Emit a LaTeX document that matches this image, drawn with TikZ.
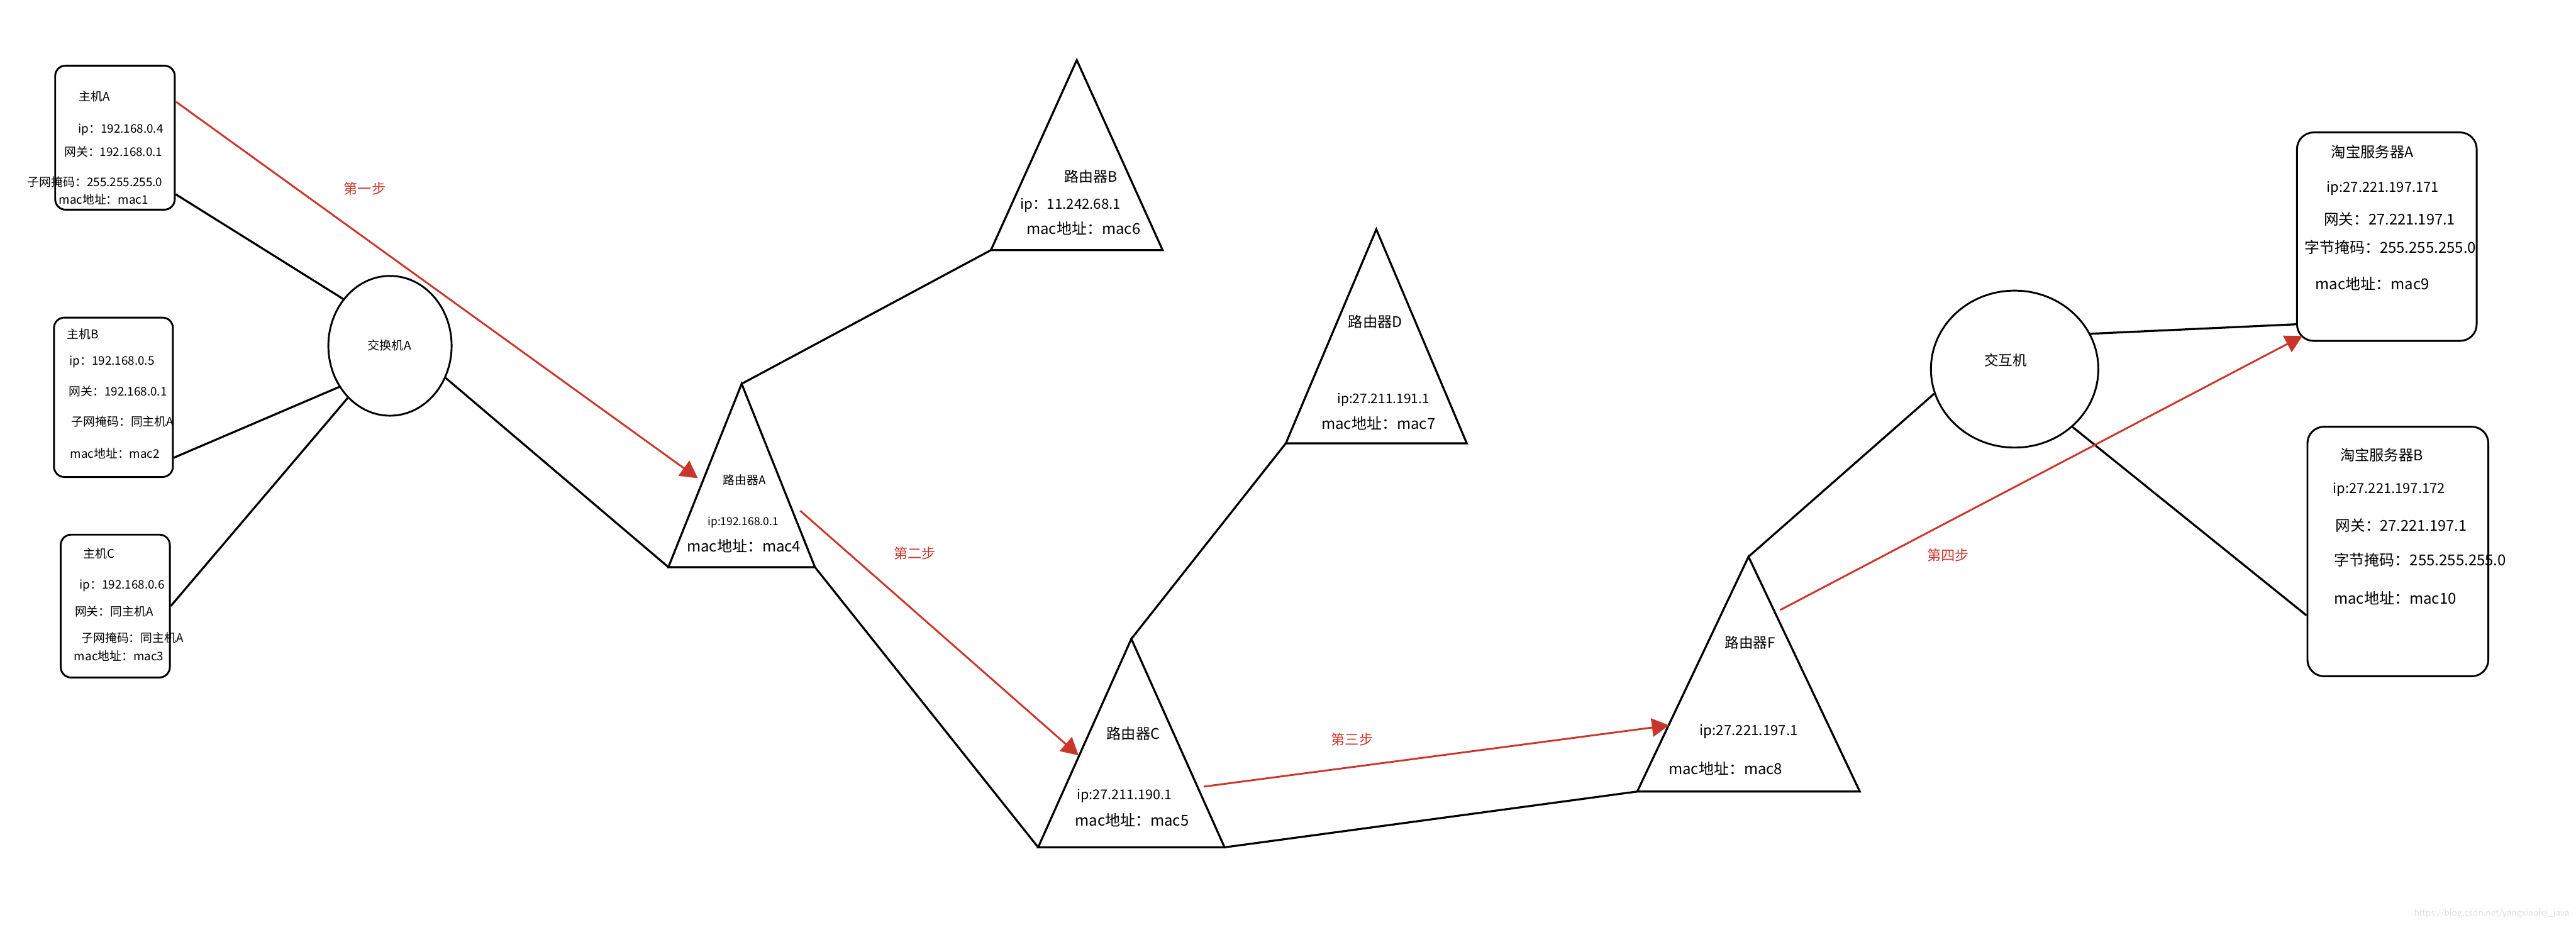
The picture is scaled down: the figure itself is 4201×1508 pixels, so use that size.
\documentclass[tikz,border=0pt]{standalone}
\usepackage{fontspec}
\setmainfont{Noto Sans CJK SC}
\usetikzlibrary{shapes.geometric,arrows.meta}
\definecolor{hopred}{RGB}{201,55,44}
\tikzset{
	link/.style={line width=0.33mm},
	box/.style={draw,line width=0.3mm,rounded corners=1.7mm,inner sep=0pt},
	srv/.style={box,rounded corners=2.7mm},
	hub/.style={draw,ellipse,line width=0.3mm,inner sep=0pt},
	hop/.style={draw=hopred,line width=0.3mm,-{Triangle[length=2.8mm,width=3mm]}},
}
\newcommand{\info}[5]{\node[inner sep=0pt,font=\fontsize{#4}{#4}\selectfont] (#1) at (#2,#3) {#5};}
\newcommand{\hoplabel}[4]{\node[inner sep=0pt,text=hopred,font=\fontsize{6.5}{6.5}\selectfont] (#1) at (#2,#3) {#4};}
\newcommand{\router}[5]{%
	\coordinate (#1-t) at (#2,#3);
	\coordinate (#1-l) at (#2-#5,#4);
	\coordinate (#1-r) at (#2+#5,#4);
	\draw[link] (#1-t) -- (#1-l) -- (#1-r) -- cycle;}
\newcommand{\wire}[2]{\draw[link] (#1) -- (#2);}

\begin{document}
\begin{tikzpicture}[x=0.1mm,y=-0.1mm]
	\useasboundingbox (0,0) rectangle (4201,1508);
	% hosts
	\node[box,minimum width=19.5mm,minimum height=23.5mm] (hostA) at (187.5,224.5) {};
	\node[box,minimum width=19.4mm,minimum height=26mm] (hostB) at (185,648) {};
	\node[box,minimum width=17.8mm,minimum height=23.3mm] (hostC) at (188,988.5) {};
	\info{hA0}{154}{157}{5.5}{主机A}
	\info{hA1}{197}{212}{5.5}{ip：192.168.0.4}
	\info{hA2}{185}{248}{5.5}{网关：192.168.0.1}
	\info{hA3}{155}{297}{5.5}{子网掩码：255.255.255.0}
	\info{hA4}{169}{325}{5.5}{mac地址：mac1}
	\info{hB0}{135}{545}{5.5}{主机B}
	\info{hB1}{182.5}{590}{5.5}{ip：192.168.0.5}
	\info{hB2}{192.5}{638}{5.5}{网关：192.168.0.1}
	\info{hB3}{200}{687}{5.5}{子网掩码：同主机A}
	\info{hB4}{187.5}{740}{5.5}{mac地址：mac2}
	\info{hC0}{161.5}{903}{5.5}{主机C}
	\info{hC1}{199}{955}{5.5}{ip：192.168.0.6}
	\info{hC2}{186}{997}{5.5}{网关：同主机A}
	\info{hC3}{216}{1040}{5.5}{子网掩码：同主机A}
	\info{hC4}{194}{1070}{5.5}{mac地址：mac3}

	% switches
	\node[hub,minimum width=20.1mm,minimum height=22.8mm] (swA) at (636,564) {};
	\info{swA0}{635}{563}{5.6}{交换机A}
	\node[hub,minimum width=27.3mm,minimum height=25.6mm] (sw) at (3285.5,602) {};
	\info{sw0}{3271}{588}{6.6}{交互机}

	% routers
	\router{rA}{1209.5}{626}{925}{119.5}
	\info{rA0}{1214}{783}{5.5}{路由器A}
	\info{rA1}{1212}{852}{5.1}{ip:192.168.0.1}
	\info{rA2}{1213}{890}{7}{mac地址：mac4}
	\router{rB}{1756}{98}{408}{140}
	\info{rB0}{1779}{288}{6.7}{路由器B}
	\info{rB1}{1746}{335}{6.5}{ip：11.242.68.1}
	\info{rB2}{1767}{372}{7}{mac地址：mac6}
	\router{rD}{2244.5}{374}{723}{147.5}
	\info{rD0}{2243}{525}{6.8}{路由器D}
	\info{rD1}{2256}{652}{6.1}{ip:27.211.191.1}
	\info{rD2}{2248}{690}{7}{mac地址：mac7}
	\router{rC}{1845}{1042}{1382}{152}
	\info{rC0}{1848}{1197}{6.8}{路由器C}
	\info{rC1}{1834}{1298}{6.3}{ip:27.211.190.1}
	\info{rC2}{1846}{1338}{7}{mac地址：mac5}
	\router{rF}{2851.5}{908}{1291}{181.5}
	\info{rF0}{2854}{1048}{6.6}{路由器F}
	\info{rF1}{2852}{1193}{6.5}{ip:27.221.197.1}
	\info{rF2}{2814}{1253}{7}{mac地址：mac8}

	% servers
	\node[srv,minimum width=29.3mm,minimum height=34mm] (srvA) at (3892.5,386) {};
	\info{sA0}{3869}{248}{6.8}{淘宝服务器A}
	\info{sA1}{3886}{307}{6.4}{ip:27.221.197.171}
	\info{sA2}{3897}{357}{6.9}{网关：27.221.197.1}
	\info{sA3}{3898}{403}{7}{字节掩码：255.255.255.0}
	\info{sA4}{3869}{463}{7}{mac地址：mac9}
	\node[srv,minimum width=29.5mm,minimum height=40.7mm] (srvB) at (3910.5,899.5) {};
	\info{sB0}{3884}{742}{6.8}{淘宝服务器B}
	\info{sB1}{3896}{798}{6.4}{ip:27.221.197.172}
	\info{sB2}{3916}{857}{6.9}{网关：27.221.197.1}
	\info{sB3}{3947}{913}{7}{字节掩码：255.255.255.0}
	\info{sB4}{3906}{975}{7}{mac地址：mac10}

	% cables
	\wire{hostA.-43}{swA.135}
	\wire{hostB.-45}{swA.219}
	\wire{hostC.east}{swA.231}
	\wire{swA.-30}{rA-l}
	\wire{rA-t}{rB-l}
	\wire{rA-r}{rC-l}
	\wire{rC-t}{rD-l}
	\wire{rC-r}{rF-l}
	\wire{rF-t}{sw.197}
	\wire{sw.25}{srvA.224}
	\wire{sw.-45}{srvB.215}

	% steps
	\coordinate (go1) at (287,166);
	\coordinate (to1) at (1138,780);
	\coordinate (go2) at (1305,833);
	\coordinate (to2) at (1759,1232);
	\coordinate (go3) at (1963,1283);
	\coordinate (to3) at (2722,1183);
	\coordinate (go4) at (2903,995);
	\coordinate (to4) at (3755,548);
	\draw[hop] (go1) -- (to1);
	\draw[hop] (go2) -- (to2);
	\draw[hop] (go3) -- (to3);
	\draw[hop] (go4) -- (to4);
	\hoplabel{st1}{595}{308}{第一步}
	\hoplabel{st2}{1492}{903}{第二步}
	\hoplabel{st3}{2205}{1206}{第三步}
	\hoplabel{st4}{3177}{906}{第四步}

	\node[anchor=east,inner sep=0pt,text=black!12,font=\fontsize{4}{4}\selectfont] (mark) at (4191,1490) {https://blog.csdn.net/yangxiaofei\_java};
\end{tikzpicture}
\end{document}
